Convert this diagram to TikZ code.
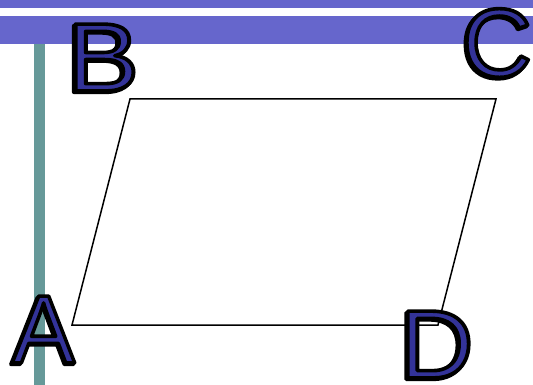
\documentclass[tikz,border=0pt]{standalone}
\usepackage{fontspec}
\setmainfont{Liberation Sans}
\definecolor{bandblue}{HTML}{6666CC}
\definecolor{barteal}{HTML}{669999}
\definecolor{letterblue}{HTML}{333399}
% letters filled blue with a thick black rim and a small black shadow
\newcommand{\rimon}{\special{pdf:code 2 Tr 3.6 w 1 j 0 0 0 RG}}
\newcommand{\rimoff}{\special{pdf:code 0 Tr}}
\newcommand{\rimletter}[1]{\rlap{\smash{\kern-1.5pt\raisebox{-1.5pt}{\color{black}\rimon#1\rimoff}}}\rimon#1\rimoff}
\begin{document}
\begin{tikzpicture}[x=1pt,y=-1pt,
	corner/.style={inner sep=0pt,text=letterblue,font=\fontsize{97}{97}\selectfont,transform shape}]
	\useasboundingbox (0,0) rectangle (533,385);
	\fill[bandblue] (0,0) rectangle (533,8.5);
	\fill[bandblue] (0,16.5) rectangle (533,44.5);
	\fill[barteal] (33.5,44.5) rectangle (44.5,385);
	\draw[line width=1.5pt] (72,325) -- (130,99) -- (496,99) -- (438,325) -- cycle;
	\node[corner,xscale=1.12] (ptB) at (103,57.5) {\rimletter{B}};
	\node[corner] (ptC) at (497,43) {\rimletter{C}};
	\node[corner,xscale=0.97] (ptA) at (43.5,329.5) {\rimletter{A}};
	\node[corner,xscale=1.06] (ptD) at (436.5,344.5) {\rimletter{D}};
\end{tikzpicture}
\end{document}
